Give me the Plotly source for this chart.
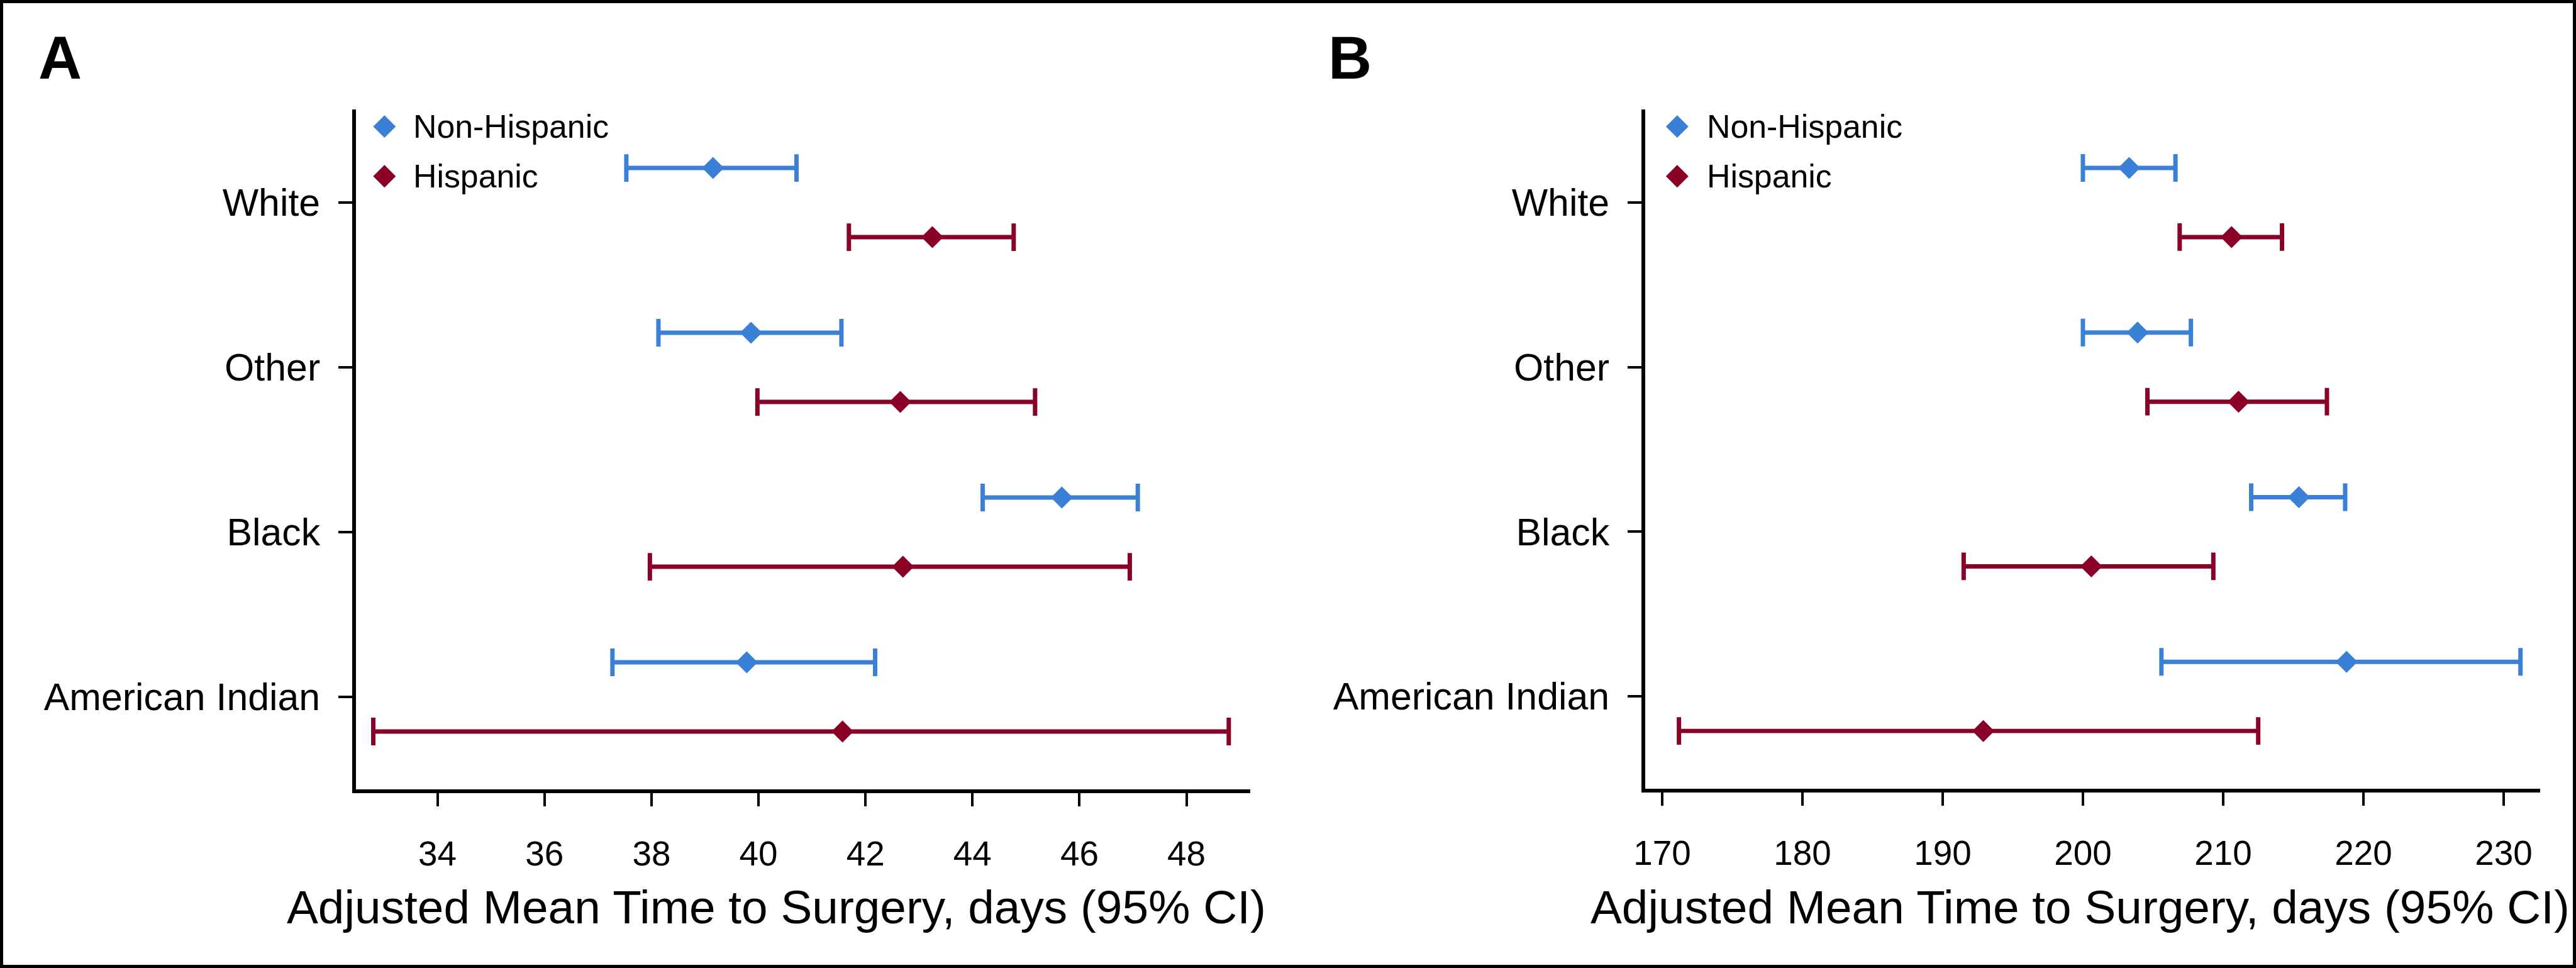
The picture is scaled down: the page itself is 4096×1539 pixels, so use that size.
import plotly.graph_objects as go

# ---------------- data ----------------
categories = ["White", "Other", "Black", "American Indian"]
series_names = ["Non-Hispanic", "Hispanic"]

# Panel A
a_nh_mean = [39.15, 39.86, 45.67, 39.78]
a_nh_low = [37.53, 38.13, 44.19, 37.27]
a_nh_high = [40.71, 41.55, 47.09, 42.18]
a_h_mean = [43.25, 42.65, 42.70, 41.57]
a_h_low = [41.69, 39.98, 37.97, 32.80]
a_h_high = [44.77, 45.17, 46.94, 48.79]
a_ticks = [34, 36, 38, 40, 42, 44, 46, 48]

# Panel B
b_nh_mean = [203.3, 203.9, 215.4, 218.8]
b_nh_low = [200.0, 200.0, 212.0, 205.6]
b_nh_high = [206.6, 207.7, 218.7, 231.2]
b_h_mean = [210.6, 211.1, 200.6, 192.9]
b_h_low = [206.9, 204.6, 191.5, 171.2]
b_h_high = [214.2, 217.4, 209.3, 212.5]
b_ticks = [170, 180, 190, 200, 210, 220, 230]

x_title = "Adjusted Mean Time to Surgery, days (95% CI)"

# ---------------- style ----------------
S = 0.997
RW, RH = 4107, 1543
FONT = "Liberation Sans, Arial, sans-serif"
BLUE = "#3A80D6"
RED = "#8A0027"
colors = [BLUE, RED]
cat_pos = [3, 2, 1, 0]
offsets = [0.21, -0.21]


def fx(px):
    return px / RW


def fy(py):
    return 1 - py / RH


fig = go.Figure()

panels = [
    dict(xa="x", ya="y",
         means=[a_nh_mean, a_h_mean], lows=[a_nh_low, a_h_low], highs=[a_nh_high, a_h_high]),
    dict(xa="x2", ya="y2",
         means=[b_nh_mean, b_h_mean], lows=[b_nh_low, b_h_low], highs=[b_nh_high, b_h_high]),
]

for p in panels:
    for k in range(2):
        m = p["means"][k]
        lo = p["lows"][k]
        hi = p["highs"][k]
        fig.add_trace(go.Scatter(
            x=m,
            y=[c + offsets[k] for c in cat_pos],
            mode="markers",
            name=series_names[k],
            showlegend=False,
            marker=dict(symbol="diamond", size=27 * S, color=colors[k], line=dict(width=0)),
            error_x=dict(type="data", symmetric=False,
                         array=[h - v for h, v in zip(hi, m)],
                         arrayminus=[v - l for v, l in zip(m, lo)],
                         color=colors[k], thickness=7 * S, width=22 * S),
            xaxis=p["xa"], yaxis=p["ya"],
            cliponaxis=False,
        ))

common_x = dict(
    ticks="outside", ticklen=21 * S, tickwidth=4 * S, tickcolor="black",
    showline=True, linewidth=6.5 * S, linecolor="black",
    showgrid=False, zeroline=False, automargin=False,
    tickfont=dict(family=FONT, size=55 * S, color="black"),
    ticklabelstandoff=28,
)
common_y = dict(
    ticks="outside", ticklen=22 * S, tickwidth=4 * S, tickcolor="black",
    showline=True, linewidth=6.5 * S, linecolor="black",
    showgrid=False, zeroline=False, automargin=False,
    tickvals=cat_pos, ticktext=categories,
    range=[-0.56, 3.567],
    tickfont=dict(family=FONT, size=61 * S, color="black"),
    ticklabelstandoff=17,
)

fig.update_layout(
    template="none",
    width=4096, height=1539,
    margin=dict(l=0, r=0, t=0, b=0, pad=0, autoexpand=False),
    paper_bgcolor="white", plot_bgcolor="white",
    font=dict(family=FONT, color="black"),
    xaxis=dict(domain=[fx(568), fx(1993)], range=[32.482, 49.188],
               tickvals=a_ticks, anchor="y", **common_x),
    yaxis=dict(domain=[fy(1258), fy(174)], anchor="x", **common_y),
    xaxis2=dict(domain=[fx(2623.5), fx(4050)], range=[168.815, 232.61],
                tickvals=b_ticks, anchor="y2", **common_x),
    yaxis2=dict(domain=[fy(1257), fy(174)], anchor="x2", **common_y),
    showlegend=False,
)

annotations = []
shapes = []

# Panel letters
for letter, xl in [("A", 59), ("B", 2116)]:
    annotations.append(dict(
        text="<b>%s</b>" % letter, xref="paper", yref="paper",
        x=fx(xl), y=fy(92), xanchor="left", yanchor="middle", showarrow=False,
        font=dict(family=FONT, size=96 * S, color="black"),
    ))

# Axis titles
for xc in [1238, 3316]:
    annotations.append(dict(
        text=x_title, xref="paper", yref="paper",
        x=fx(xc), y=fy(1446), xanchor="center", yanchor="middle", showarrow=False,
        font=dict(family=FONT, size=75 * S, color="black"),
    ))

# Legends
legend_pos = [(613, 657), (2674, 2719)]
legend_y = [201.7, 281]
hd = 18 * S
diamond_path = "M0,%f L%f,0 L0,%f L%f,0 Z" % (hd, hd, -hd, -hd)
for (mx, tx) in legend_pos:
    for k in range(2):
        shapes.append(dict(
            type="path", xref="paper", yref="paper",
            xsizemode="pixel", ysizemode="pixel",
            xanchor=fx(mx), yanchor=fy(legend_y[k]),
            path=diamond_path, fillcolor=colors[k], line=dict(width=0),
        ))
        annotations.append(dict(
            text=series_names[k], xref="paper", yref="paper",
            x=fx(tx), y=fy(legend_y[k]), xanchor="left", yanchor="middle",
            showarrow=False,
            font=dict(family=FONT, size=52 * S, color="black"),
        ))

# Outer border (inset so the full stroke is visible)
bw = 5
shapes.append(dict(type="rect", xref="paper", yref="paper",
                   x0=fx(bw / 2), x1=1 - fx(bw / 2), y0=1 - fy(bw / 2), y1=fy(bw / 2),
                   line=dict(color="black", width=bw * S), fillcolor="rgba(0,0,0,0)"))

fig.update_layout(annotations=annotations, shapes=shapes)

fig.write_html(
    "out.html",
    config={"displayModeBar": False},
    post_script="document.body.style.margin='0';document.body.style.padding='0';"
                "document.body.style.overflow='hidden';",
)
